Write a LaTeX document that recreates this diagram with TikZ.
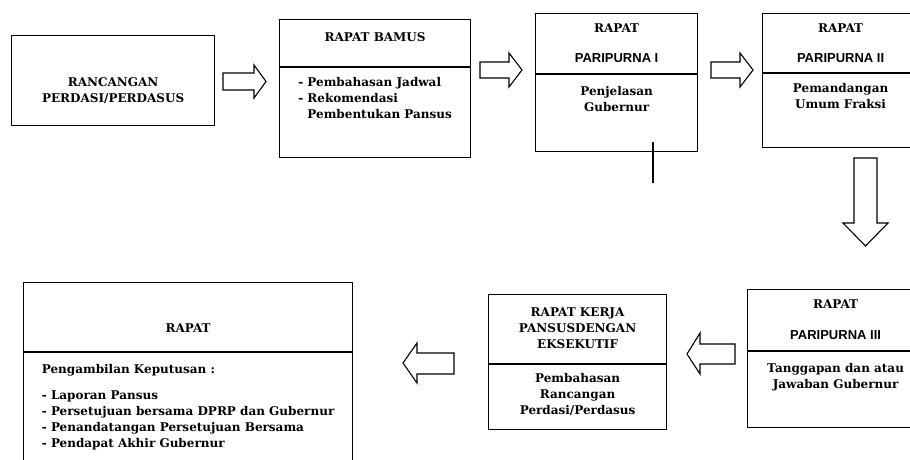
\documentclass[tikz,border=0pt]{standalone}
\usepackage{fontspec}
\setmainfont{DejaVu Serif}
\setsansfont{Liberation Sans}
\usepackage{tikz}
\usetikzlibrary{arrows.meta, positioning, shapes, calc}

\tikzset{
  box/.style={draw, line width=1.2pt, inner xsep=4pt, inner ysep=0pt, align=center,
    font=\bfseries\fontsize{12}{16}\selectfont},
  blockarrow/.style={draw, line width=1.1pt},
}
\newcommand{\parifont}{\sffamily\bfseries\fontsize{13}{16}\selectfont}

\begin{document}
\begin{tikzpicture}[x=1pt, y=-1pt]
\useasboundingbox (0,0) rectangle (910,460);
\clip (0,0) rectangle (910,460);

% Top row
\node[box, anchor=north west, minimum width=203pt, text height=67pt, text depth=23pt] (rancangan) at (11,35) {RANCANGAN\\PERDASI/PERDASUS};

\node[box, anchor=north west, minimum width=191pt, text height=22pt, text depth=25pt] (bamushead) at (279,19) {RAPAT BAMUS};
\node[box, align=left, minimum width=191pt, text height=51pt, text depth=39pt, below=0pt of bamushead] (bamusbody) {- Pembahasan Jadwal\\- Rekomendasi\\\phantom{- }Pembentukan Pansus};

\node[box, anchor=north west, minimum width=162pt, text height=49pt, text depth=11pt] (p1head) at (535,13) {RAPAT\\[14pt]{\parifont PARIPURNA I}};
\node[box, minimum width=162pt, text height=37pt, text depth=40pt, below=0pt of p1head] (p1body) {Penjelasan\\Gubernur};

\node[box, anchor=north west, minimum width=156pt, text height=49pt, text depth=10pt] (p2head) at (762,13) {RAPAT\\[14pt]{\parifont PARIPURNA II}};
\node[box, minimum width=156pt, text height=35pt, text depth=39pt, below=0pt of p2head] (p2body) {Pemandangan\\Umum Fraksi};

% Bottom row
\node[box, anchor=north west, minimum width=176pt, text height=50pt, text depth=11pt] (p3head) at (747,289) {RAPAT\\[15pt]{\parifont PARIPURNA III}};
\node[box, minimum width=176pt, text height=37pt, text depth=39pt, below=0pt of p3head] (p3body) {Tanggapan dan atau\\Jawaban Gubernur};

\node[box, anchor=north west, minimum width=178pt, text height=54pt, text depth=15pt] (kerjahead) at (488,294) {RAPAT KERJA\\PANSUSDENGAN\\EKSEKUTIF};
\node[box, minimum width=178pt, text height=50pt, text depth=15pt, below=0pt of kerjahead] (kerjabody) {Pembahasan\\Rancangan\\Perdasi/Perdasus};

\node[box, anchor=north west, minimum width=329pt, text height=50pt, text depth=19pt] (rapathead) at (23,282) {RAPAT};
\node[box, align=left, minimum width=329pt, text height=95pt, text depth=34pt, below=0pt of rapathead] (rapatbody) {Pengambilan Keputusan :\\[10pt]- Laporan Pansus\\- Persetujuan bersama DPRP dan Gubernur\\- Penandatangan Persetujuan Bersama\\- Pendapat Akhir Gubernur};

% Hollow block arrows
\draw[blockarrow] (223,73) -- (254,73) -- (254,65) -- (266,81.5) -- (254,98) -- (254,90) -- (223,90) -- cycle;
\draw[blockarrow] (480,62) -- (509,62) -- (509,53) -- (522,70) -- (509,87) -- (509,78) -- (480,78) -- cycle;
\draw[blockarrow] (711,62) -- (740,62) -- (740,53) -- (753,70) -- (740,87) -- (740,78) -- (711,78) -- cycle;
\draw[blockarrow] (854,158) -- (877,158) -- (877,223) -- (888,223) -- (865.5,246) -- (843,223) -- (854,223) -- cycle;
\draw[blockarrow] (735,344) -- (700,344) -- (700,333) -- (687,354) -- (700,374) -- (700,364) -- (735,364) -- cycle;
\draw[blockarrow] (454,353) -- (417,353) -- (417,343) -- (403,363) -- (417,383) -- (417,374) -- (454,374) -- cycle;

% Stub below Paripurna I
\coordinate (stub) at (653,183);
\draw[line width=1.2pt] ($(stub |- p1body.south)+(0,-10)$) -- (stub);

\end{tikzpicture}
\end{document}
